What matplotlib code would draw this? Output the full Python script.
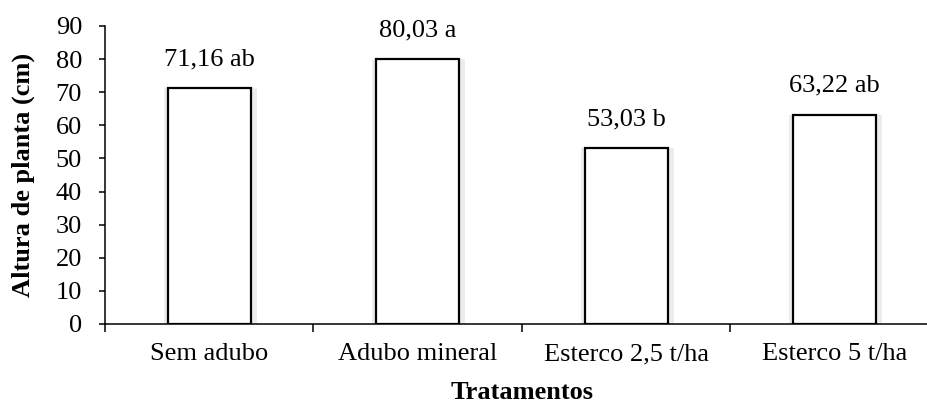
import matplotlib
matplotlib.use("Agg")
import matplotlib.pyplot as plt
import numpy as np

# Plant height by treatment
tratamentos = ["Sem adubo", "Adubo mineral", "Esterco 2,5 t/ha", "Esterco 5 t/ha"]
altura = [71.16, 80.03, 53.03, 63.22]
letras = ["ab", "a", "b", "ab"]

plt.rcParams["font.family"] = ["Liberation Serif", "DejaVu Serif"]
plt.rcParams["font.size"] = 19

fig = plt.figure(figsize=(9.28, 4.03), dpi=100)
ax = fig.add_axes([105 / 928, 79 / 403, 834 / 928, 298 / 403])

x = np.arange(len(tratamentos))
largura = 0.40
px = 1 / 208.5  # one pixel in data units along x

# soft grey shadow behind each bar
ax.bar(x + 1 * px, altura, width=largura + 10 * px, color="#ececec",
       edgecolor="none", zorder=1)
ax.bar(x, altura, width=largura, color="white", edgecolor="black",
       linewidth=1.6, zorder=2)

for xi, v, l in zip(x, altura, letras):
    rotulo = f"{v:.2f}".replace(".", ",") + " " + l
    ax.annotate(rotulo, (xi, v), xytext=(0, 16.5), textcoords="offset points",
                ha="center", va="baseline")

ax.set_xlim(-0.5, len(tratamentos) - 0.5)
ax.set_ylim(0, 90)
ax.set_yticks(range(0, 91, 10))

# tick marks between categories, names centred under the bars
ax.set_xticks(np.arange(-0.5, len(tratamentos), 1.0))
ax.set_xticklabels([])
ax.set_xticks(x, minor=True)
ax.set_xticklabels(tratamentos, minor=True)
ax.tick_params(axis="x", which="major", length=6, width=1.1, direction="out")
ax.tick_params(axis="x", which="minor", length=0, pad=14)
ax.tick_params(axis="y", length=4.5, width=1.1, direction="out", pad=12)

for s in ["top", "right"]:
    ax.spines[s].set_visible(False)
for s in ["left", "bottom"]:
    ax.spines[s].set_linewidth(1.1)

ax.set_xlabel("Tratamentos", fontweight="bold", labelpad=11)
ax.set_ylabel("Altura de planta (cm)", fontweight="bold", labelpad=15)

fig.savefig("out.png", dpi=100)
